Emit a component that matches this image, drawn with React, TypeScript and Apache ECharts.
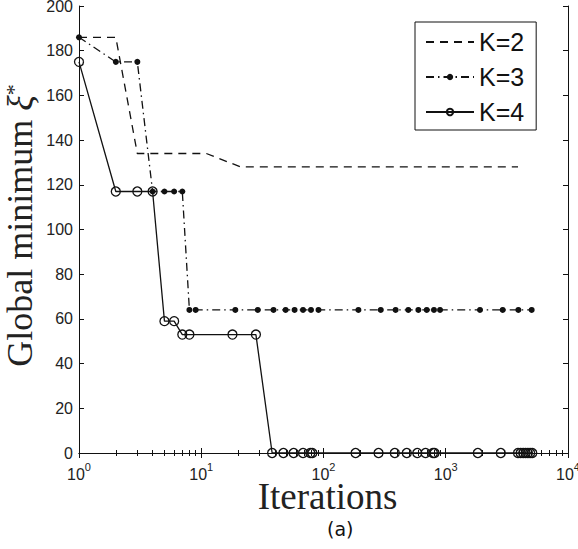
import React, { useEffect, useRef } from "react";
import * as echarts from "echarts";

// K=2 (dashed, no markers)
const iterK2 = [1, 2, 3, 11, 21, 3900];
const valK2 = [186, 186, 134, 134, 128, 128];

// K=3 (dash-dot, filled dots)
const iterK3 = [1, 2, 3, 4, 5, 6, 7, 8, 9, 19, 29, 39, 49, 58, 68, 79, 91, 193, 294, 389, 494, 597, 699, 801, 898, 1906, 2923, 3927, 5045];
const valK3 = [186, 175, 175, 117, 117, 117, 117, 64, 64, 64, 64, 64, 64, 64, 64, 64, 64, 64, 64, 64, 64, 64, 64, 64, 64, 64, 64, 64, 64];

// K=4 (solid, open circles)
const iterK4 = [1, 2, 3, 4, 5, 6, 7, 8, 18, 28, 38, 47, 57, 68, 78, 81, 183, 282, 383, 480, 585, 683, 786, 810, 1830, 2820, 3900, 4100, 4300, 4500, 4700, 4900, 5100];
const valK4 = [175, 117, 117, 117, 59, 59, 53, 53, 53, 53, 0, 0, 0, 0, 0, 0, 0, 0, 0, 0, 0, 0, 0, 0, 0, 0, 0, 0, 0, 0, 0, 0, 0];

const seriesNames = ["K=2", "K=3", "K=4"];
const yTicks = { min: 0, max: 200, interval: 20 };
const xRange = { min: 1, max: 10000 };

const pairs = (xs: number[], ys: number[]) => xs.map((x, i) => [x, ys[i]]);

const INK = "#111";
const SANS = "'Liberation Sans', Arial, Helvetica, sans-serif";
const SERIF = "'Liberation Serif', 'Times New Roman', serif";

export default function App() {
  const ref = useRef<HTMLDivElement>(null);
  useEffect(() => {
    if (!ref.current) return;
    const chart = echarts.init(ref.current, null, { renderer: "svg" });
    const xAxisBase = {
      type: "log" as const,
      logBase: 10,
      min: xRange.min,
      max: xRange.max,
      splitLine: { show: false },
      axisLine: { show: true, lineStyle: { color: INK, width: 1 } },
      axisTick: { show: true, inside: true, length: 5, lineStyle: { color: INK } },
      minorTick: { show: true, splitNumber: 9, length: 3, lineStyle: { color: INK } },
    };
    const yAxisBase = {
      type: "value" as const,
      min: yTicks.min,
      max: yTicks.max,
      interval: yTicks.interval,
      splitLine: { show: false },
      axisLine: { show: true, lineStyle: { color: INK, width: 1 } },
      axisTick: { show: true, inside: true, length: 5, lineStyle: { color: INK } },
    };
    chart.setOption({
      animation: false,
      backgroundColor: "#fff",
      grid: { left: 79, right: 10, top: 6, bottom: 96, containLabel: false, outerBoundsMode: "none" },
      xAxis: [
        {
          ...xAxisBase,
          position: "bottom",
          name: "Iterations",
          nameLocation: "middle",
          nameGap: 29,
          nameMoveOverlap: false,
          nameTextStyle: { fontFamily: SERIF, fontSize: 37, color: "#222", lineHeight: 28, padding: [0, 0, 0, 8] },
          axisLabel: {
            margin: 8,
            formatter: (v: number) => `{b|10}{sup|${Math.round(Math.log10(v))}}`,
            rich: {
              b: { fontFamily: SANS, fontSize: 16, color: "#222", lineHeight: 21, verticalAlign: "bottom" },
              sup: { fontFamily: SANS, fontSize: 11, color: "#222", lineHeight: 11, verticalAlign: "top" },
            },
          },
        },
        { ...xAxisBase, position: "top", axisLabel: { show: false } },
      ],
      yAxis: [
        {
          ...yAxisBase,
          position: "left",
          name: "{t|Global minimum }{x|ξ}{sup|*}",
          nameLocation: "middle",
          nameGap: 41,
          nameMoveOverlap: false,
          nameTextStyle: {
            padding: [0, 0, 0, 8],
            rich: {
              t: { fontFamily: SERIF, fontSize: 36, color: "#222", lineHeight: 36, verticalAlign: "bottom" },
              x: { fontFamily: SERIF, fontStyle: "italic", fontSize: 36, color: "#222", lineHeight: 36, verticalAlign: "bottom" },
              sup: { fontFamily: SERIF, fontSize: 22, color: "#222", lineHeight: 22, verticalAlign: "top" },
            },
          },
          axisLabel: { margin: 6, fontFamily: SANS, fontSize: 16, color: "#222" },
        },
        { ...yAxisBase, position: "right", axisLabel: { show: false } },
      ],
      legend: {
        orient: "vertical",
        left: 415,
        top: 22,
        width: 120,
        padding: [6, 12, 4, 10],
        itemGap: 7,
        itemWidth: 48,
        itemHeight: 8,
        borderColor: INK,
        borderWidth: 1,
        borderRadius: 0,
        backgroundColor: "#fff",
        data: [
          { name: seriesNames[0], itemStyle: { opacity: 0 } },
          { name: seriesNames[1] },
          { name: seriesNames[2] },
        ],
        textStyle: { fontFamily: SANS, fontSize: 25, color: "#111", lineHeight: 28, padding: [0, 0, 0, 0] },
      },
      series: [
        {
          name: seriesNames[0],
          type: "line",
          data: pairs(iterK2, valK2),
          symbol: "none",
          clip: false,
          lineStyle: { color: INK, width: 1.3, type: [8, 6] },
          itemStyle: { color: INK },
          z: 2,
        },
        {
          name: seriesNames[1],
          type: "line",
          data: pairs(iterK3, valK3),
          symbol: "circle",
          symbolSize: 6,
          clip: false,
          lineStyle: { color: INK, width: 1.3, type: [8, 4, 1.5, 4] },
          itemStyle: { color: INK },
          z: 3,
        },
        {
          name: seriesNames[2],
          type: "line",
          data: pairs(iterK4, valK4),
          symbol: "circle",
          symbolSize: 9,
          clip: false,
          lineStyle: { color: INK, width: 1.3, type: "solid" },
          itemStyle: { color: "rgba(0,0,0,0)", borderColor: INK, borderWidth: 1.3 },
          z: 4,
        },
      ],
      graphic: [
        {
          type: "text",
          left: 327,
          top: 519,
          style: { text: "(a)", fontFamily: "'DejaVu Sans', sans-serif", fontSize: 19, fill: "#111" },
        },
      ],
    });
    return () => chart.dispose();
  }, []);
  return (
    <div
      ref={ref}
      style={{ position: "fixed", left: 0, top: 0, width: 578, height: 549, background: "#fff" }}
    />
  );
}
